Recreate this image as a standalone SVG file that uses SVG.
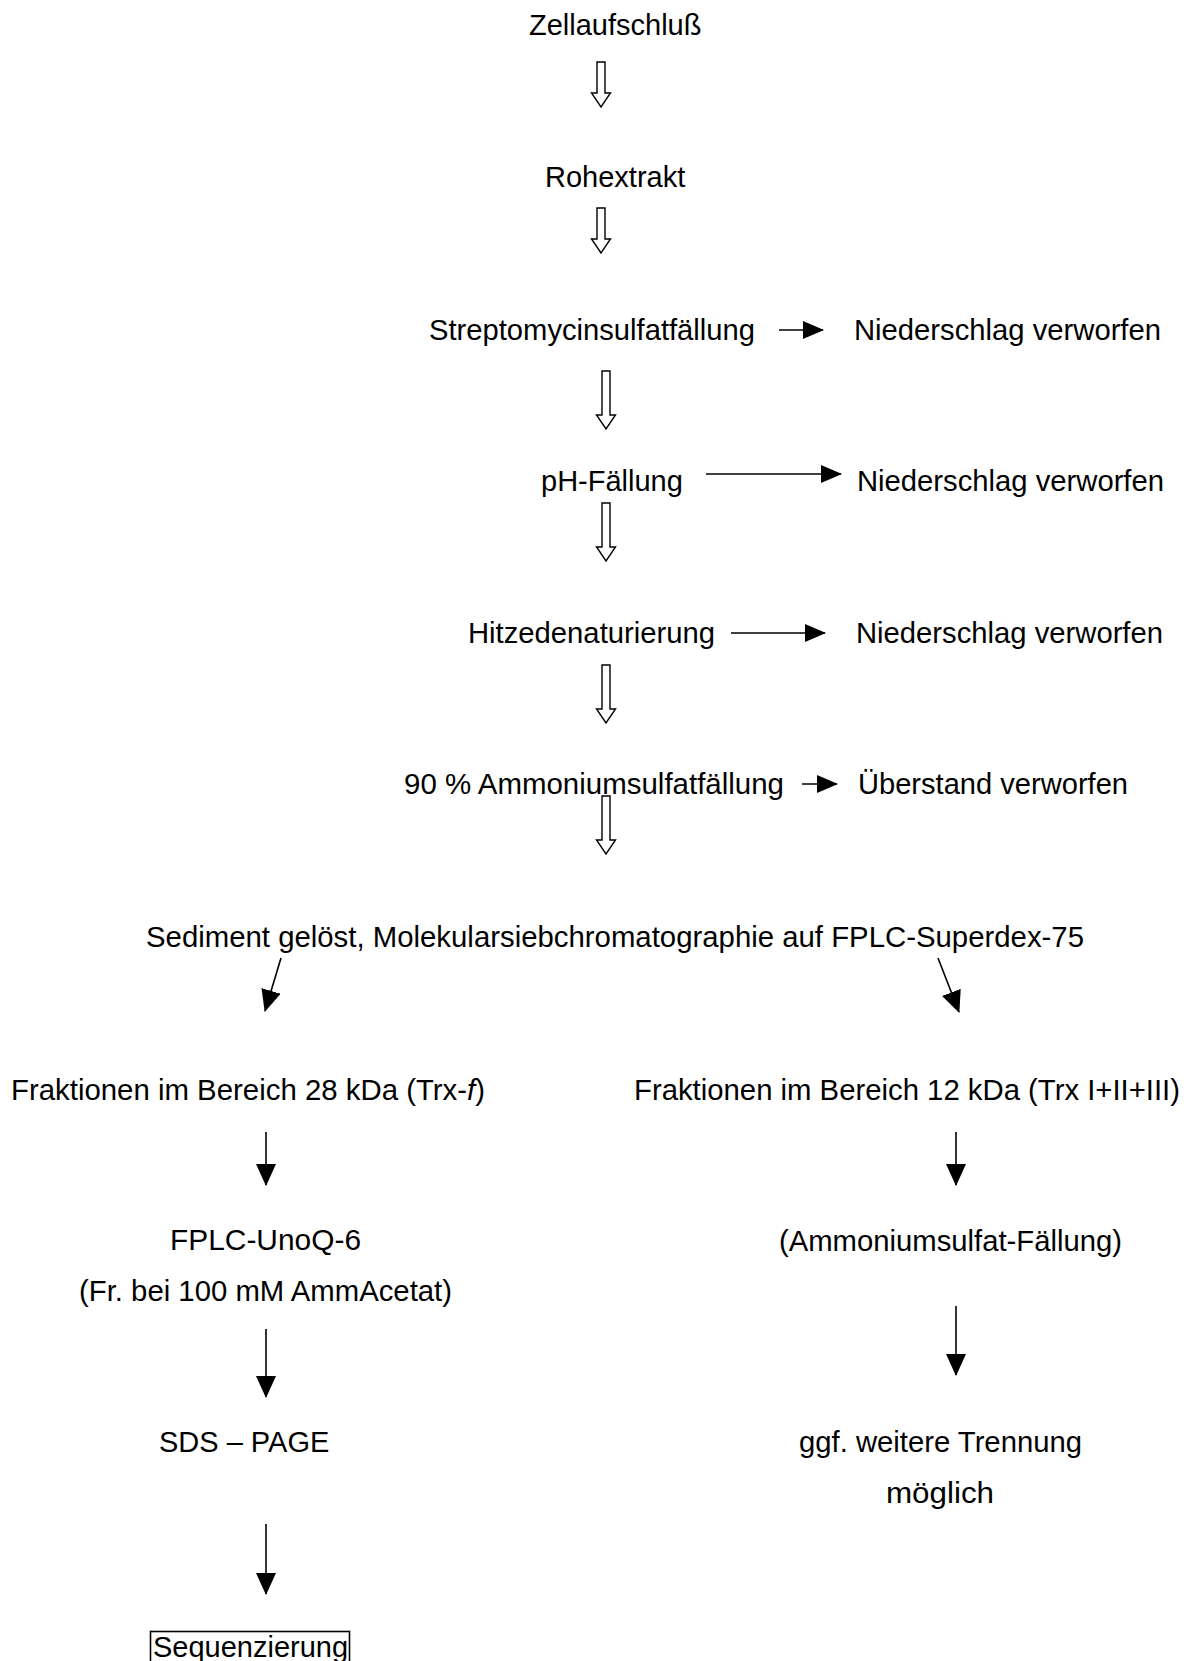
<svg xmlns="http://www.w3.org/2000/svg" xmlns:xlink="http://www.w3.org/1999/xlink" width="1191" height="1661" viewBox="0 0 1191 1661">
<style>
text{font-family:"Liberation Sans",Arial,sans-serif;font-size:29px;fill:#000}
.ln{stroke:#000;stroke-width:1.6;fill:none}
.hol{fill:#fff;stroke:#000;stroke-width:1.4}
</style>
<defs>
<marker id="ah" markerUnits="userSpaceOnUse" markerWidth="22" markerHeight="20" refX="21" refY="10" orient="auto"><path d="M0,0 L22,10 L0,20 Z" fill="#000"/></marker>
<marker id="ahs" markerUnits="userSpaceOnUse" markerWidth="21" markerHeight="18" refX="20" refY="9" orient="auto"><path d="M0,0 L21,9 L0,18 Z" fill="#000"/></marker>
<path id="hollow" class="hol" d="M-4,0 L4,0 L4,44 L9.5,44 L0,58 L-9.5,44 L-4,44 Z"/>
<path id="hollowS" class="hol" d="M-4,0 L4,0 L4,31 L9.5,31 L0,45 L-9.5,31 L-4,31 Z"/>
</defs>
<rect width="1191" height="1661" fill="#fff"/>
<g id="connectors">
<use xlink:href="#hollowS" x="601" y="62"/>
<use xlink:href="#hollowS" x="601" y="208"/>
<use xlink:href="#hollow" x="606" y="371"/>
<use xlink:href="#hollow" x="606" y="503"/>
<use xlink:href="#hollow" x="606" y="665"/>
<use xlink:href="#hollow" x="606" y="796"/>
<line class="ln" x1="779" y1="330" x2="823" y2="330" marker-end="url(#ahs)"/>
<line class="ln" x1="706" y1="474" x2="841" y2="474" marker-end="url(#ahs)"/>
<line class="ln" x1="731" y1="633" x2="825" y2="633" marker-end="url(#ahs)"/>
<line class="ln" x1="802" y1="784" x2="837" y2="784" marker-end="url(#ahs)"/>
<line class="ln" x1="281" y1="958" x2="265" y2="1011" marker-end="url(#ah)"/>
<line class="ln" x1="938" y1="958" x2="959" y2="1012" marker-end="url(#ah)"/>
<line class="ln" x1="266" y1="1132" x2="266" y2="1185" marker-end="url(#ah)"/>
<line class="ln" x1="956" y1="1132" x2="956" y2="1185" marker-end="url(#ah)"/>
<line class="ln" x1="266" y1="1329" x2="266" y2="1397" marker-end="url(#ah)"/>
<line class="ln" x1="956" y1="1306" x2="956" y2="1375" marker-end="url(#ah)"/>
<line class="ln" x1="266" y1="1524" x2="266" y2="1594" marker-end="url(#ah)"/>
</g>
<g id="n-zell"><text x="529" y="35">Zellaufschluß</text></g>
<g id="n-roh"><text x="545" y="187">Rohextrakt</text></g>
<g id="n-strep"><text x="429" y="340" textLength="326" lengthAdjust="spacingAndGlyphs">Streptomycinsulfatfällung</text></g>
<g id="n-nied1"><text x="854" y="340" textLength="307" lengthAdjust="spacingAndGlyphs">Niederschlag verworfen</text></g>
<g id="n-ph"><text x="541" y="491">pH-Fällung</text></g>
<g id="n-nied2"><text x="857" y="491" textLength="307" lengthAdjust="spacingAndGlyphs">Niederschlag verworfen</text></g>
<g id="n-hitze"><text x="468" y="643" textLength="247" lengthAdjust="spacingAndGlyphs">Hitzedenaturierung</text></g>
<g id="n-nied3"><text x="856" y="643" textLength="307" lengthAdjust="spacingAndGlyphs">Niederschlag verworfen</text></g>
<g id="n-amm"><text x="404" y="794" textLength="380" lengthAdjust="spacingAndGlyphs">90 % Ammoniumsulfatfällung</text></g>
<g id="n-ueber"><text x="858" y="794" textLength="270" lengthAdjust="spacingAndGlyphs">Überstand verworfen</text></g>
<g id="n-sed"><text x="146" y="947" textLength="938" lengthAdjust="spacingAndGlyphs">Sediment gelöst, Molekularsiebchromatographie auf FPLC-Superdex-75</text></g>
<g id="n-fr28"><text x="11" y="1100" textLength="474" lengthAdjust="spacingAndGlyphs">Fraktionen im Bereich 28 kDa (Trx-<tspan font-style="italic">f</tspan>)</text></g>
<g id="n-fr12"><text x="634" y="1100" textLength="546" lengthAdjust="spacingAndGlyphs">Fraktionen im Bereich 12 kDa (Trx I+II+III)</text></g>
<g id="n-fplc"><text x="170" y="1250" textLength="191" lengthAdjust="spacingAndGlyphs">FPLC-UnoQ-6</text><text x="79" y="1301" textLength="373" lengthAdjust="spacingAndGlyphs">(Fr. bei 100 mM AmmAcetat)</text></g>
<g id="n-ammf"><text x="779" y="1251" textLength="343" lengthAdjust="spacingAndGlyphs">(Ammoniumsulfat-Fällung)</text></g>
<g id="n-sds"><text x="159" y="1452">SDS – PAGE</text></g>
<g id="n-ggf"><text x="799" y="1452" textLength="283" lengthAdjust="spacingAndGlyphs">ggf. weitere Trennung</text><text x="886" y="1503" textLength="108" lengthAdjust="spacingAndGlyphs">möglich</text></g>
<g id="n-seq"><rect x="150.5" y="1631.5" width="199" height="40" fill="none" stroke="#000" stroke-width="1.6"/><text x="153" y="1657">Sequenzierung</text></g>
</svg>
